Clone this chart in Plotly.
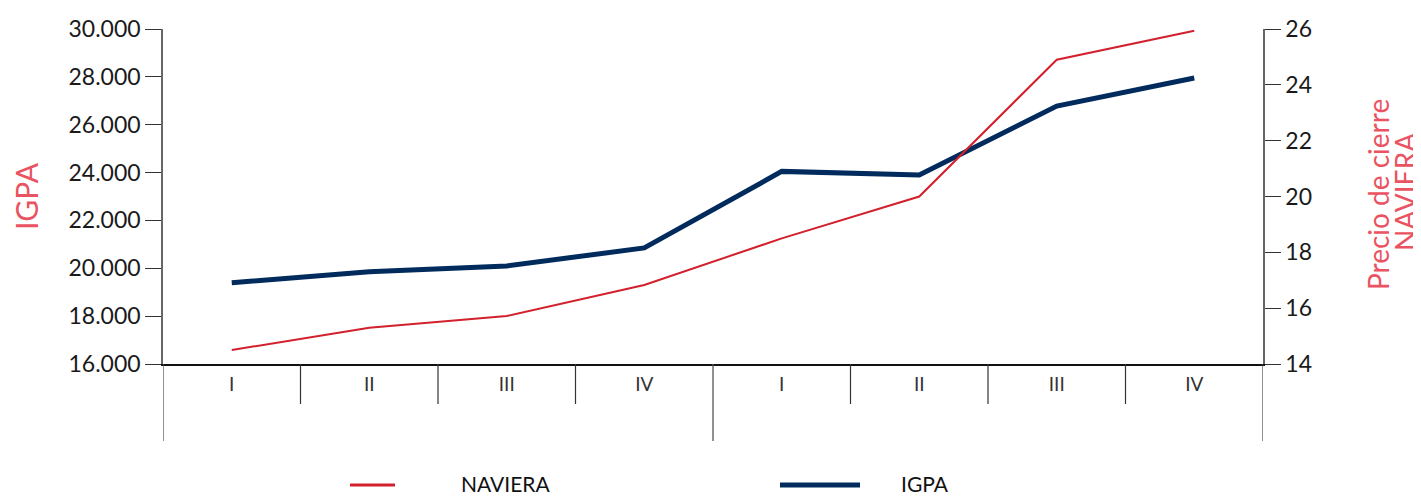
import plotly.graph_objects as go

quarters = ["I", "II", "III", "IV", "I", "II", "III", "IV"]
igpa = [19400, 19850, 20100, 20850, 24050, 23900, 26780, 27950]
naviera = [14.5, 15.3, 15.72, 16.83, 18.5, 20.0, 24.9, 25.94]
left_ticks = [16000, 18000, 20000, 22000, 24000, 26000, 28000, 30000]
right_ticks = [14, 16, 18, 20, 22, 24, 26]

xpos = [i + 0.5 for i in range(len(quarters))]

RED = "#D2202C"
NAVY = "#002B5C"
TITLE_RED = "#EA5361"
FONT = "Lato"

fig = go.Figure()
fig.add_trace(go.Scatter(x=xpos, y=naviera, name="NAVIERA", mode="lines",
                         line=dict(color=RED, width=2), yaxis="y2", showlegend=False))
fig.add_trace(go.Scatter(x=xpos, y=igpa, name="IGPA", mode="lines",
                         line=dict(color=NAVY, width=5), showlegend=False))

# page is offset by the browser's default 8px body margin
OFF = 8
W, H = 1421 - OFF, 498 - OFF
L, R, T, B = 163 - OFF, 1263 - OFF, 29 - OFF, 364 - OFF  # plot box in figure px
ml, mr, mt, mb = L, W - R, T, H - B
pw = R - L
ph = B - T

def py(page_y):
    return (B - (page_y - OFF)) / ph

def px(page_x):
    return ((page_x - OFF) - L) / pw

shapes = []
for xv in [0, 4, 8]:
    shapes.append(dict(type="line", xref="x", yref="paper", x0=xv, x1=xv,
                       y0=0, y1=py(441), line=dict(color="#555555", width=1.3)))
for xv in [1, 2, 3, 5, 6, 7]:
    shapes.append(dict(type="line", xref="x", yref="paper", x0=xv, x1=xv,
                       y0=0, y1=py(404), line=dict(color="#333333", width=1.2)))

annotations = []
# legend (manual, to match placement)
legend_items = [("NAVIERA", RED, 3, 350, 395, 460), ("IGPA", NAVY, 5, 780, 860, 900)]
for name, col, wdt, s0, s1, tx in legend_items:
    shapes.append(dict(type="line", xref="paper", yref="paper", x0=px(s0), x1=px(s1),
                       y0=py(485), y1=py(485), line=dict(color=col, width=wdt)))
    annotations.append(dict(text=name, xref="paper", yref="paper", x=px(tx), y=py(483),
                            xanchor="left", yanchor="middle", showarrow=False,
                            borderpad=0,
                            font=dict(size=21, color="#111111", family=FONT)))

# right axis title (two tight lines)
for txt, xc, yc in [("Precio de cierre", 1378, 195), ("NAVIERA", 1405, 192)]:
    annotations.append(dict(text=txt, xref="paper", yref="paper", x=px(xc), y=py(yc),
                            xanchor="center", yanchor="middle", showarrow=False,
                            textangle=-90, font=dict(size=28, color=TITLE_RED, family=FONT)))

fig.update_layout(
    width=W, height=H,
    margin=dict(l=ml, r=mr, t=mt, b=mb, autoexpand=False),
    paper_bgcolor="white", plot_bgcolor="white",
    separators=",.",
    font=dict(family=FONT, color="#1a1a1a"),
    xaxis=dict(range=[0, 8], tickmode="array", tickvals=xpos, ticktext=quarters,
               showgrid=False, zeroline=False, showline=True, linecolor="#111111",
               linewidth=1.5, ticks="", tickfont=dict(size=19, color="#333333"),
               ticklabelstandoff=2, automargin=False),
    yaxis=dict(range=[16000, 30000], tickmode="array", tickvals=left_ticks,
               tickformat=",d", showgrid=False, zeroline=False, showline=True,
               linecolor="#666666", linewidth=1.5, ticks="outside", ticklen=16,
               tickcolor="#333333", tickwidth=1.3, automargin=False,
               tickfont=dict(size=23, color="#1a1a1a"),
               title=dict(text="IGPA", font=dict(size=30, color=TITLE_RED), standoff=28)),
    yaxis2=dict(range=[14, 26], tickmode="array", tickvals=right_ticks,
                overlaying="y", side="right", showgrid=False, zeroline=False,
                showline=True, linecolor="#666666", linewidth=1.5, ticks="outside",
                ticklen=16, tickcolor="#333333", tickwidth=1.3, automargin=False,
                tickfont=dict(size=23, color="#1a1a1a")),
    shapes=shapes,
    annotations=annotations,
)

fig.write_html("out.html")
